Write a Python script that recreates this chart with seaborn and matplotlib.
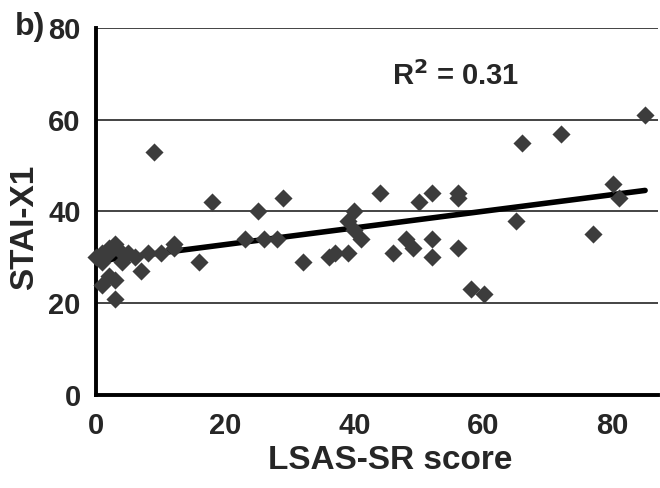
import matplotlib
matplotlib.use("Agg")
import matplotlib.pyplot as plt
import seaborn as sns
import numpy as np
import pandas as pd

lsas = [0, 1, 1, 2, 3, 2, 1, 2, 3, 3, 4, 4, 5, 6, 7, 8, 10, 9, 12, 12,
        16, 18, 23, 25, 26, 28, 29, 32, 36, 37, 39, 39, 40, 40, 41, 44,
        46, 48, 49, 50, 52, 52, 52, 56, 56, 56, 58, 60, 65, 66, 72, 77,
        80, 81, 85]
stai = [30, 29, 31, 32, 33, 31, 24, 26, 25, 21, 31, 29, 31, 30, 27, 31, 31, 53, 33, 32,
        29, 42, 34, 40, 34, 34, 43, 29, 30, 31, 31, 38, 40, 36, 34, 44,
        31, 34, 32, 42, 44, 34, 30, 44, 43, 32, 23, 22, 38, 55, 57, 35,
        46, 43, 61]
x_ticks = [0, 20, 40, 60, 80]
y_ticks = [0, 20, 40, 60, 80]

df = pd.DataFrame({"LSAS": lsas, "STAI": stai})

sns.set_style("white")
plt.rcParams["font.family"] = ["Liberation Sans", "DejaVu Sans"]
plt.rcParams["font.weight"] = "bold"

fig = plt.figure(figsize=(6.6, 4.88), dpi=100)
ax = fig.add_axes([0.1455, 0.1906, 0.8515, 0.752])

for yv in y_ticks[1:]:
    ax.axhline(yv, color="#111111", lw=1.1, zorder=1)

sns.regplot(data=df, x="LSAS", y="STAI", ax=ax, ci=None, truncate=True,
            marker="D",
            scatter_kws={"s": 85, "color": "#3c3c3c", "linewidths": 0,
                         "clip_on": False, "zorder": 4, "alpha": 1},
            line_kws={"color": "black", "lw": 4, "zorder": 3,
                      "solid_capstyle": "round"})

ax.set_xlim(0, 87)
ax.set_ylim(0, 80)
ax.set_xticks(x_ticks)
ax.set_yticks(y_ticks)
ax.tick_params(axis="both", length=9, width=2.6, color="black",
               labelsize=21, direction="out")
ax.tick_params(axis="x", pad=3)
ax.tick_params(axis="y", pad=2)
for lab in ax.get_xticklabels() + ax.get_yticklabels():
    lab.set_fontweight("bold")

for s in ["top", "right"]:
    ax.spines[s].set_visible(False)
for s in ["left", "bottom"]:
    ax.spines[s].set_linewidth(2.8)
    ax.spines[s].set_color("black")

ax.set_xlabel("LSAS-SR score", fontsize=24, fontweight="bold", labelpad=5)
ax.set_ylabel("STAI-X1", fontsize=24, fontweight="bold", labelpad=6)
ax.xaxis.set_label_coords(0.523, -0.135)
ax.yaxis.label.set_y(0.456)

ax.text(0.64, 0.869, r"R$^\mathbf{2}$ = 0.31", transform=ax.transAxes,
        ha="center", va="center", fontsize=21, fontweight="bold")
fig.text(0.022, 0.944, "b)", fontsize=23, fontweight="bold", ha="left", va="center")

fig.savefig("out.png", dpi=100)
